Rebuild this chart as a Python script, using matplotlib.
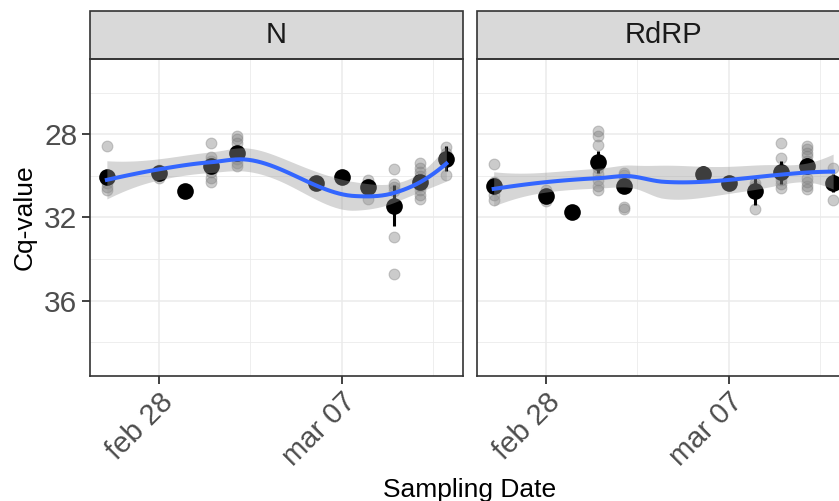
import numpy as np
import matplotlib
matplotlib.use('Agg')
import matplotlib.pyplot as plt
import matplotlib.dates as mdates
from matplotlib.patches import Rectangle

plt.rcParams['font.family'] = ['Liberation Sans', 'DejaVu Sans']

# sampling dates (same for both genes)
dates = np.array(['2021-02-26', '2021-02-28', '2021-03-01', '2021-03-02', '2021-03-03',
                  '2021-03-06', '2021-03-07', '2021-03-08', '2021-03-09', '2021-03-10',
                  '2021-03-11'], dtype='datetime64[D]')

panels = ['N', 'RdRP']

# N gene: means, error bar half-lengths and individual replicates
n_mean = [30.05, 29.86, 30.72, 29.54, 28.89, 30.34, 30.07, 30.54, 31.43, 30.30, 29.18]
n_err = [0.3, 0.1, 0.0, 0.25, 0.3, 0.0, 0.0, 0.2, 1.0, 0.2, 0.6]
n_reps = [[28.58, 30.35, 30.55, 30.70], [29.70, 29.85, 30.10], [30.72],
          [28.40, 29.10, 29.30, 29.60, 29.80, 30.10, 30.30],
          [28.10, 28.25, 28.40, 29.20, 29.40, 29.55], [30.34], [30.07],
          [30.18, 30.40, 30.55, 31.10], [29.67, 30.40, 30.55, 30.75, 32.96, 34.71],
          [29.40, 29.60, 29.80, 30.00, 30.20, 30.50, 30.70, 30.90, 31.10],
          [28.61, 28.90, 29.97]]

# RdRP gene
rdrp_mean = [30.50, 30.96, 31.72, 29.34, 30.50, 29.91, 30.34, 30.75, 29.83, 29.53, 30.34]
rdrp_err = [0.3, 0.15, 0.0, 0.53, 0.3, 0.0, 0.0, 0.64, 0.54, 0.4, 0.45]
rdrp_reps = [[29.45, 30.30, 30.60, 30.90, 31.15], [30.70, 31.00, 31.20], [31.72],
             [27.84, 28.10, 28.50, 29.60, 29.90, 30.20, 30.50, 30.70],
             [29.86, 29.95, 30.20, 30.40, 31.50, 31.60], [29.91], [30.34],
             [30.34, 30.50, 31.60], [28.44, 29.13, 29.80, 30.20, 30.40, 30.60],
             [28.55, 28.70, 28.90, 29.05, 29.30, 30.10, 30.30, 30.50, 30.65],
             [29.62, 30.20, 31.18]]

tick_dates = np.array(['2021-02-28', '2021-03-07'], dtype='datetime64[D]')
tick_labels = ['feb 28', 'mar 07']
y_ticks = [28, 32, 36]


def local_rows(x, x0, q):
    """Operator rows (value, slope) of a tricube-weighted local quadratic at x0."""
    n = len(x)
    d = np.abs(x - x0)
    h = np.sort(d)[q - 1]
    w = np.clip(1 - (d / h) ** 3, 0, None) ** 3
    X = np.column_stack([np.ones(n), x - x0, (x - x0) ** 2])
    XtW = X.T * w
    B = np.linalg.solve(XtW @ X, XtW)
    return B[0], B[1]


def loess(x, y, x_new, span=0.75, cell=0.2):
    """loess with kd-tree vertices + cubic Hermite interpolation, 95% band."""
    n = len(x)
    q = int(np.floor(n * span))
    fc = int(np.floor(n * span * cell))
    xs = np.sort(x)
    mu = 0.005 * (xs[-1] - xs[0])
    verts = {xs[0] - mu, xs[-1] + mu}

    def split(l, u, vlo, vhi):
        if u - l + 1 <= fc:
            return
        m = (l + u) // 2
        t = (xs[m] + xs[m + 1]) / 2 if m < u else xs[m]
        if t == vlo or t == vhi:
            return
        verts.add(t)
        split(l, m, vlo, t)
        split(m + 1, u, t, vhi)

    split(0, n - 1, verts and min(verts), max(verts))
    vv = np.array(sorted(verts))
    vals, slopes = zip(*[local_rows(x, v, q) for v in vv])
    vals, slopes = np.array(vals), np.array(slopes)

    def interp_rows(pts):
        out = []
        for p in pts:
            k = min(max(np.searchsorted(vv, p) - 1, 0), len(vv) - 2)
            h = vv[k + 1] - vv[k]
            t = (p - vv[k]) / h
            h00 = 2 * t ** 3 - 3 * t ** 2 + 1
            h10 = t ** 3 - 2 * t ** 2 + t
            h01 = -2 * t ** 3 + 3 * t ** 2
            h11 = t ** 3 - t ** 2
            out.append(h00 * vals[k] + h * h10 * slopes[k] + h01 * vals[k + 1]
                       + h * h11 * slopes[k + 1])
        return np.array(out)

    L = interp_rows(x)
    res = y - L @ y
    M = (np.eye(n) - L).T @ (np.eye(n) - L)
    d1 = np.trace(M)
    d2 = np.trace(M @ M)
    sigma = np.sqrt(np.sum(res ** 2) / d1)
    df = d1 ** 2 / d2
    z = 1.959964
    t = (z + (z ** 3 + z) / 4 / df + (5 * z ** 5 + 16 * z ** 3 + 3 * z) / 96 / df ** 2
         + (3 * z ** 7 + 19 * z ** 5 + 17 * z ** 3 - 15 * z) / 384 / df ** 3)
    Ln = interp_rows(x_new)
    fit = Ln @ y
    se = sigma * np.sqrt(np.sum(Ln ** 2, axis=1))
    return fit, fit - t * se, fit + t * se


W, H = 839, 501
fig = plt.figure(figsize=(W / 100, H / 100), dpi=100)

pan_w = 373.4
lefts = [89.9, 476.7]
top, bottom = 58.5, 376.0
strip_h = 47.5

x_dates = mdates.date2num(dates.astype('datetime64[s]').astype(object))
x_ticks = mdates.date2num(tick_dates.astype('datetime64[s]').astype(object))

data = [(n_mean, n_err, n_reps), (rdrp_mean, rdrp_err, rdrp_reps)]

for i, (name, (mean, err, reps)) in enumerate(zip(panels, data)):
    ax = fig.add_axes([lefts[i] / W, (H - bottom) / H, pan_w / W, (bottom - top) / H])
    mean = np.array(mean)
    err = np.array(err)

    # replicates
    rx = np.concatenate([[x_dates[j]] * len(r) for j, r in enumerate(reps)])
    ry = np.concatenate(reps)
    ax.scatter(rx, ry, s=60, facecolor='#7f7f7f', edgecolor='#7f7f7f',
               linewidths=0.8, alpha=0.4, zorder=3)

    # means with error bars
    has = err > 0
    ax.vlines(x_dates[has], (mean - err)[has], (mean + err)[has], color='black',
              lw=2.2, zorder=4)
    ax.scatter(x_dates, mean, s=144, color='black', linewidths=0, zorder=5)

    # loess smooth
    xs = np.linspace(x_dates.min(), x_dates.max(), 80)
    fit, lo, hi = loess(rx, ry, xs)
    ax.fill_between(xs, lo, hi, color='#999999', alpha=0.4, lw=0, zorder=6)
    ax.plot(xs, fit, color='#3366FF', lw=2.9, zorder=7)

    # scales
    ax.set_xticks(x_ticks)
    ax.set_xticklabels(tick_labels, rotation=45, ha='right', va='top',
                       rotation_mode='anchor', fontsize=21, color='#4d4d4d')
    ax.set_xticks([x_ticks[0] + 3.5, x_ticks[1] + 3.5], minor=True)
    ax.set_yticks(y_ticks)
    ax.set_yticks([26, 30, 34, 38], minor=True)
    ax.set_xlim(x_dates.min() - 0.65, x_dates.max() + 0.65)
    ax.set_ylim(39.62, 24.36)
    if i == 0:
        ax.set_yticklabels([str(v) for v in y_ticks], fontsize=21.5, color='#4d4d4d')
        ax.tick_params(axis='y', which='major', length=5.5, width=1.3, color='#333333', pad=3.5)
    else:
        ax.tick_params(axis='y', which='major', length=0, labelleft=False)
    ax.tick_params(axis='x', which='major', length=5.5, width=1.3, color='#333333', pad=3)
    ax.tick_params(which='minor', length=0)

    ax.grid(which='major', color='#ebebeb', lw=1.1, zorder=0)
    ax.grid(which='minor', color='#ebebeb', lw=0.6, zorder=0)
    ax.set_axisbelow(True)
    for sp in ax.spines.values():
        sp.set_color('#333333')
        sp.set_linewidth(1.2)
        sp.set_zorder(10)

    # facet strip
    sh = strip_h / (bottom - top)
    ax.add_patch(Rectangle((0, 1), 1, sh, transform=ax.transAxes, clip_on=False,
                           facecolor='#d9d9d9', edgecolor='#333333', lw=1.2, zorder=10))
    ax.text(0.5, 1 + sh / 2, name, transform=ax.transAxes, ha='center', va='center',
            fontsize=21, color='#1a1a1a', zorder=11)

fig.text(25 / W, 1 - 217 / H, 'Cq-value', rotation=90, ha='center', va='center', fontsize=19)
fig.text(469.5 / W, (H - 496.7) / H, 'Sampling Date', ha='center', va='baseline', fontsize=19)

fig.savefig('out.png', dpi=100)
